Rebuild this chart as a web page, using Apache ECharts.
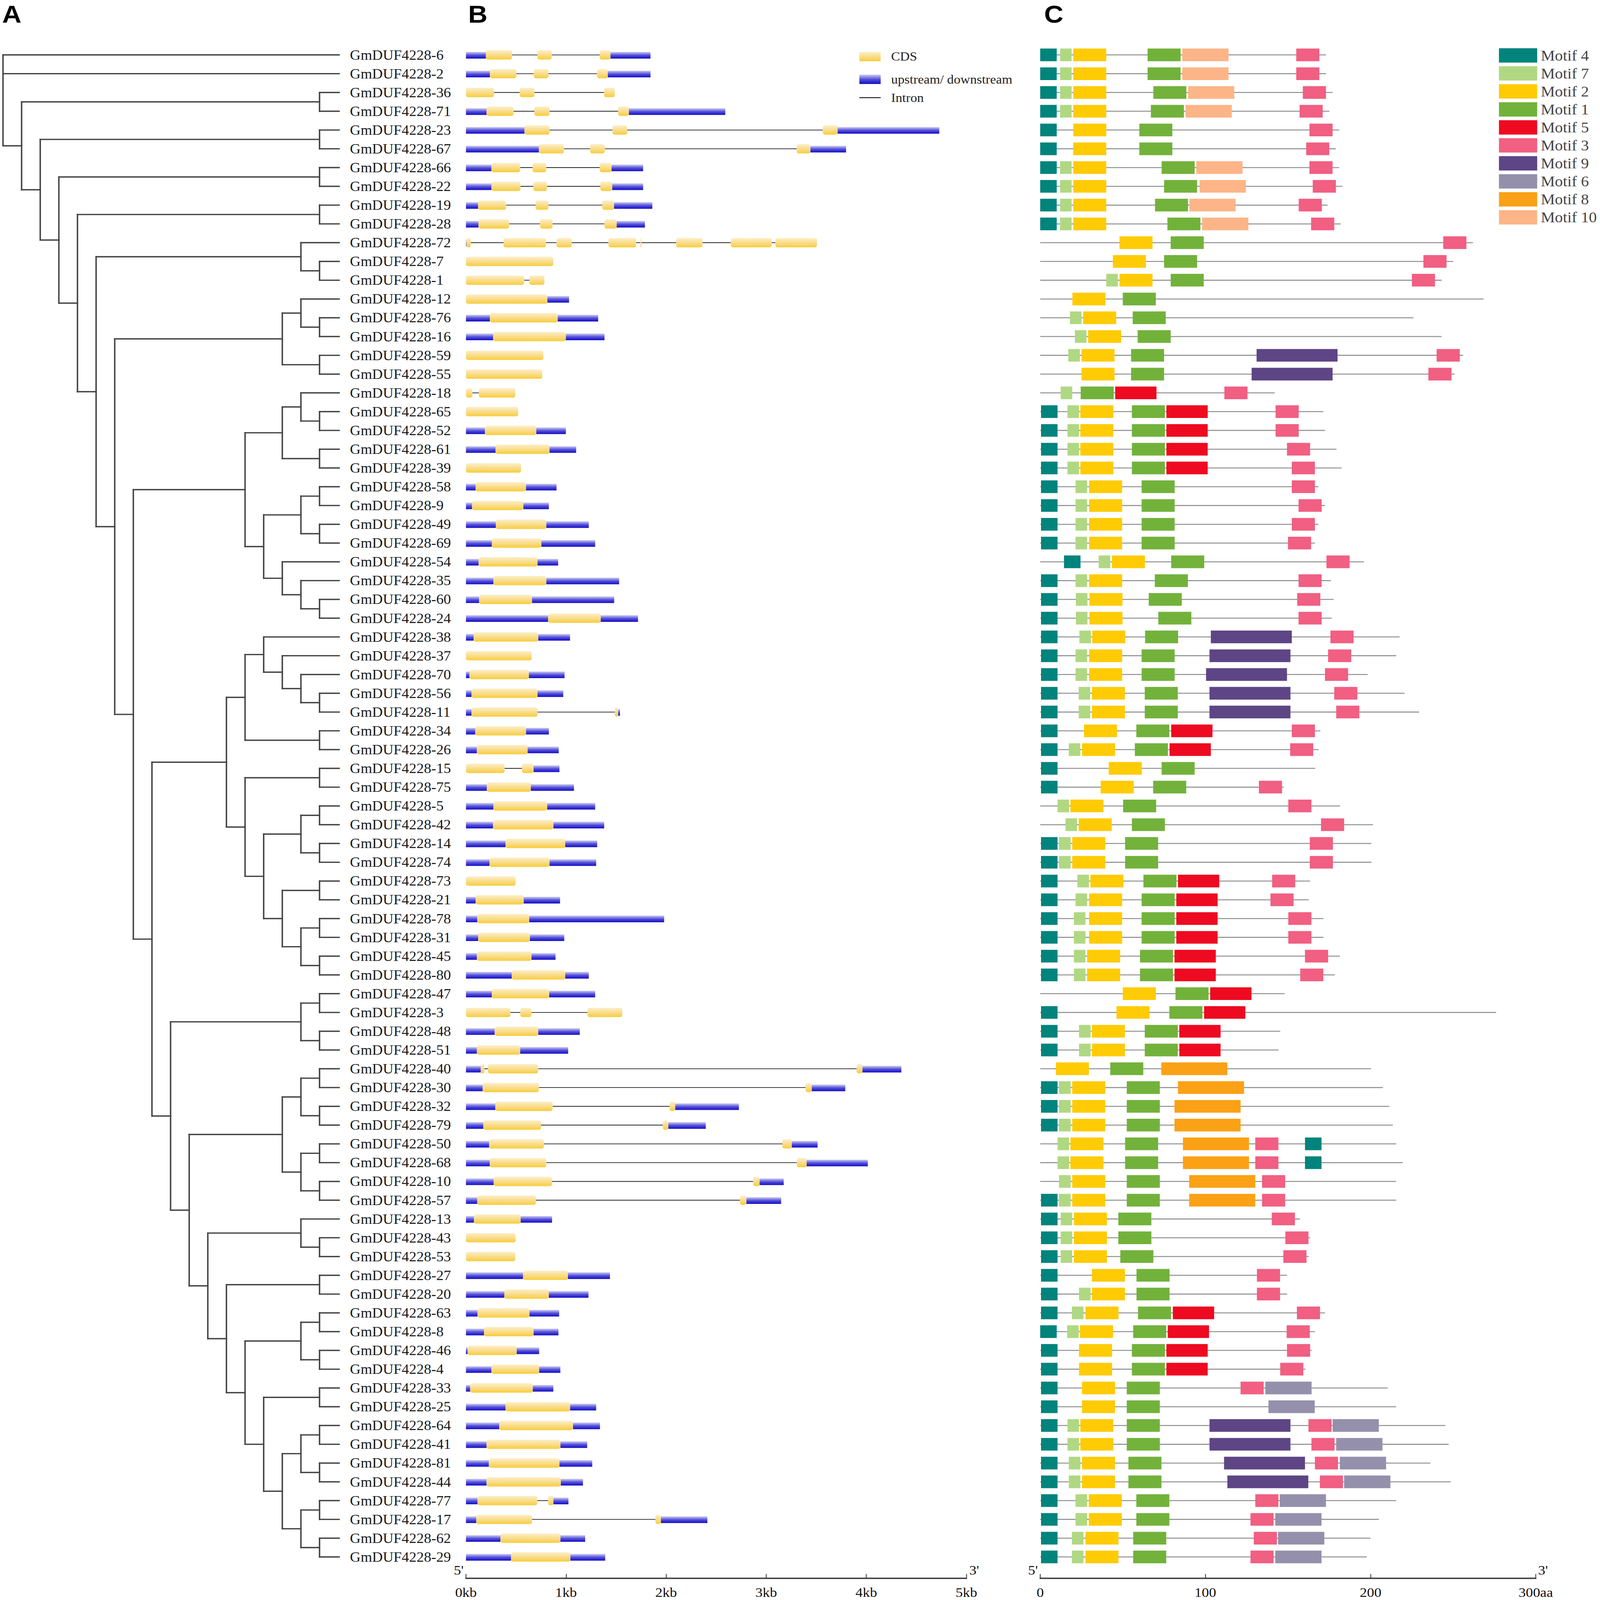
<!DOCTYPE html>
<html>
<head>
<meta charset="utf-8">
<title>GmDUF4228 tree, gene structure and motifs</title>
<script src="https://cdn.jsdelivr.net/npm/echarts@6/dist/echarts.min.js"></script>
<style>
html, body { margin: 0; padding: 0; background: #fff; overflow: hidden; }
#chart { width: 4433px; height: 4793px; transform-origin: 0 0; }
</style>
</head>
<body>
<div id="chart"></div>
<script>
// Gene ids from top to bottom
const geneIds = [6,2,36,71,23,67,66,22,19,28,72,7,1,12,76,16,59,55,18,65,52,61,39,58,9,49,69,54,35,60,24,
  38,37,70,56,11,34,26,15,75,5,42,14,74,73,21,78,31,45,80,47,3,48,51,40,30,32,79,50,68,10,57,13,43,53,27,20,
  63,8,46,4,33,25,64,41,81,44,77,17,62,29];

// Cladogram: [depth, child, child...], a plain number is a leaf (gene id)
const treeNodes =
[0,6,2,
 [1,[17,36,71],
  [2,[17,23,67],
   [3,[17,66,22],
    [4,[17,19,28],
     [5,[16,72,[17,7,1]],
      [6,[15,[16,12,[17,76,16]],[17,59,55]],
       [7,[13,[15,[16,18,[17,65,52]],[17,61,39]],
              [14,[16,[17,58,9],[17,49,69]],[15,54,[16,35,[17,60,24]]]]],
        [8,[12,[13,[14,38,[15,37,[16,70,[17,56,11]]]],[17,34,26]],
               [13,[17,15,75],[14,[16,[17,5,42],[17,14,74]],[15,[17,73,21],[16,[17,78,31],[17,45,80]]]]]],
         [9,[16,[17,47,3],[17,48,51]],
          [10,[15,[16,[17,40,30],[17,32,79]],[16,[17,50,68],[17,10,57]]],
           [11,[16,13,[17,43,53]],
            [12,[17,27,20],
             [13,[16,[17,63,8],[17,46,4]],
              [14,[17,33,25],
               [15,[16,[17,64,41],[17,81,44]],[16,[17,77,17],[17,62,29]]]]]]]]]]]]]]]]]];
const leafDepth = 18.05;

// Gene length in bp, one per row
const geneLengths = [1844,1844,1487,2591,4729,3798,1770,1770,1862,1788,3507,872,784,1030,1321,1384,773,762,493,522,
  998,1101,551,905,828,1227,1291,921,1530,1481,1719,1040,657,985,972,1539,828,927,934,1079,
  1291,1381,1311,1301,496,940,1980,982,895,1227,1291,1562,1137,1021,4350,3790,2727,2396,3513,4015,
  3175,3149,860,496,493,1439,1224,931,924,731,943,873,1301,1339,1211,1262,1169,1024,2412,1191,1391];

// CDS blocks in bp, one list per row
const cdsRows = [
  [[199,460],[714,857],[1336,1443]],[[239,504],[677,824],[1310,1417]],[[0,280],[537,684],[1380,1487]],
  [[206,475],[684,835],[1520,1627]],[[585,835],[1465,1612],[3566,3713]],[[729,979],[1240,1387],[3305,3441]],
  [[254,541],[666,802],[1336,1454]],[[254,545],[673,810],[1343,1461]],[[121,401],[696,824],[1362,1479]],
  [[125,431],[740,865],[1384,1505]],
  [[4,48],[375,799],[905,1056],[1424,1700],[1744,1752],[2101,2363],[2646,3054],[3091,3507]],
  [[0,872]],[[0,581],[633,784]],[[0,813]],[[239,916]],[[272,997]],[[0,773]],[[0,762]],[[0,64],[129,493]],[[0,522]],
  [[190,702]],[[296,834]],[[0,551]],[[97,599]],[[61,573]],[[299,802]],[[258,753]],[[126,715]],[[274,802]],[[132,660]],
  [[821,1346]],[[77,721]],[[0,657]],[[35,628]],[[55,715]],[[55,715],[1488,1520]],[[93,599]],[[109,615]],
  [[0,386],[560,676]],[[209,647]],[[274,811]],[[270,873]],[[396,992]],[[235,834]],[[0,496]],[[97,576]],[[113,631]],
  [[122,638]],[[109,654]],[[457,992]],[[258,831]],[[0,444],[544,654],[1214,1562]],[[287,721]],[[109,541]],
  [[148,184],[219,721],[3903,3961]],[[167,728],[3394,3455]],[[293,866],[2035,2090]],[[174,750],[1967,2022]],
  [[232,779],[3162,3255]],[[238,802],[3307,3404]],[[277,860],[2869,2933]],[[113,699],[2737,2801]],[[80,547]],
  [[0,496]],[[0,493]],[[570,1018]],[[383,828]],[[116,634]],[[180,676]],[[16,506]],[[254,731]],[[42,667]],[[396,1040]],
  [[332,1069]],[[206,943]],[[229,934]],[[206,947]],[[116,712],[821,873]],[[103,660],[1893,1948]],[[345,943]],[[451,1043]]
];

// Protein length in aa, one per row
const proteinLengths = [173,173,177,175,181,179,181,183,174,182,262,250,243,268.5,226,243,256,251,142,171.4,
  172.4,179.4,182.5,168.5,172.4,168.5,166.3,196,176,177.6,176.5,217.6,215.5,198.3,220.6,229.4,169.6,168.5,166.5,147.4,
  181.5,201.5,200.5,200.5,163.4,162.6,171.4,171.4,181.4,178.4,148,276,145.3,144.3,200.3,207.5,211.4,213.5,215.5,219.4,
  215.5,215.5,157.3,163.4,162.6,149.5,149.5,172.4,166.3,164.4,160.5,210.4,215.5,245.3,247.3,236.2,248.5,215.5,205,199.9,197.7];

// Motif hits per row: [motif number, start aa]
const motifRows = [
  [[4,0],[7,12],[2,20],[1,65],[10,86],[3,155]],
  [[4,0],[7,12],[2,20],[1,65],[10,86],[3,155]],
  [[4,0],[7,12],[2,20],[1,68.5],[10,89.5],[3,159]],
  [[4,0],[7,12],[2,20],[1,67],[10,88],[3,157]],
  [[4,0],[2,20],[1,60],[3,163]],
  [[4,0],[2,20],[1,60],[3,161]],
  [[4,0],[7,12],[2,20],[1,73.5],[10,94.5],[3,163]],
  [[4,0],[7,12],[2,20],[1,75],[10,96.5],[3,165]],
  [[4,0],[7,12],[2,20],[1,69.5],[10,90.3],[3,156.5]],
  [[4,0],[7,12],[2,20],[1,77],[10,98],[3,164]],
  [[2,48],[1,79],[3,244]],
  [[2,44],[1,75],[3,232]],
  [[7,40],[2,48],[1,79],[3,225]],
  [[2,19.5],[1,50]],
  [[7,18],[2,26],[1,56]],
  [[7,21],[2,29],[1,59]],
  [[7,17],[2,25],[1,55],[9,131],[3,240]],
  [[2,25],[1,55],[9,128],[3,235]],
  [[7,12.4],[1,24.5],[5,45.4],[3,111.5]],
  [[4,0.5],[7,16.5],[2,24.3],[1,55.5],[5,76.4],[3,142.5]],
  [[4,0.5],[7,16.5],[2,24.3],[1,55.5],[5,76.4],[3,142.5]],
  [[4,0.5],[7,16.5],[2,24.3],[1,55.5],[5,76.4],[3,149.4]],
  [[4,0.5],[7,16.5],[2,24.3],[1,55.5],[5,76.4],[3,152.3]],
  [[4,0.5],[7,21.4],[2,29.6],[1,61.4],[3,152.3]],
  [[4,0.5],[7,21.4],[2,29.6],[1,61.4],[3,156.4]],
  [[4,0.5],[7,21.4],[2,29.6],[1,61.4],[3,152.3]],
  [[4,0.5],[7,21.4],[2,29.6],[1,61.4],[3,150]],
  [[4,14.4],[7,35.4],[2,43.4],[1,79.3],[3,173.3]],
  [[4,0.5],[7,21.4],[2,29.6],[1,69.4],[3,156.4]],
  [[4,0.5],[7,21.6],[2,29.8],[1,65.7],[3,155.6]],
  [[4,0.5],[7,21.6],[2,29.8],[1,71.5],[3,156.4]],
  [[4,0.5],[7,23.7],[2,31.5],[1,63.5],[9,103.3],[3,175.7]],
  [[4,0.5],[7,21.4],[2,29.6],[1,61.4],[9,102.5],[3,174.3]],
  [[4,0.5],[7,21.4],[2,29.6],[1,61.4],[9,100.4],[3,172.4]],
  [[4,0.5],[7,23.3],[2,31.3],[1,63.3],[9,102.5],[3,178]],
  [[4,0.5],[7,23.3],[2,31.3],[1,63.3],[9,102.5],[3,179.2]],
  [[4,0.5],[2,26.5],[1,58.2],[5,79.3],[3,152.3]],
  [[4,0.5],[7,17.3],[2,25.3],[1,57.3],[5,78.3],[3,151.3]],
  [[4,0.5],[2,41.5],[1,73.5]],
  [[4,0.5],[2,36.6],[1,68.4],[3,132.4]],
  [[7,10.5],[2,18.3],[1,50.2],[3,150.2]],
  [[7,15.3],[2,23.3],[1,55.5],[3,170]],
  [[4,0.5],[7,11.4],[2,19.4],[1,51.4],[3,163.2]],
  [[4,0.5],[7,11.4],[2,19.4],[1,51.4],[3,163.2]],
  [[4,0.5],[7,22.5],[2,30.4],[1,62.5],[5,83.4],[3,140.4]],
  [[4,0.5],[7,21.4],[2,29.6],[1,61.4],[5,82.4],[3,139.4]],
  [[4,0.5],[7,20.4],[2,29.6],[1,61.4],[5,82.4],[3,150.2]],
  [[4,0.5],[7,20.4],[2,29.6],[1,61.4],[5,82.4],[3,150.2]],
  [[4,0.5],[7,20.4],[2,28.4],[1,60.4],[5,81.3],[3,160.3]],
  [[4,0.5],[7,20.4],[2,28.4],[1,60.4],[5,81.3],[3,157.4]],
  [[2,50],[1,81.9],[5,102.9]],
  [[4,0.5],[2,46.2],[1,78.2],[5,99.2]],
  [[4,0.5],[7,23.5],[2,31.3],[1,63.3],[5,84.2]],
  [[4,0.5],[7,23.5],[2,31.3],[1,63.3],[5,84.2]],
  [[2,9.5],[1,42.4],[8,73.3]],
  [[4,0.5],[7,11.4],[2,19.4],[1,52.4],[8,83.4]],
  [[4,0.5],[7,11.4],[2,19.4],[1,52.4],[8,81.3]],
  [[4,0.5],[7,11.4],[2,19.4],[1,52.4],[8,81.3]],
  [[7,10.5],[2,18.3],[1,51.4],[8,86.4],[3,130.2],[4,160.3]],
  [[7,10.5],[2,18.3],[1,51.4],[8,86.4],[3,130.2],[4,160.3]],
  [[7,11.4],[2,19.4],[1,52.4],[8,90.2],[3,134.3]],
  [[4,0.5],[7,11.4],[2,19.4],[1,52.4],[8,90.2],[3,134.3]],
  [[4,0.5],[7,12.4],[2,20.4],[1,47.3],[3,140.2]],
  [[4,0.5],[7,12.4],[2,20.4],[1,47.3],[3,148.4]],
  [[4,0.5],[7,12.4],[2,20.4],[1,48.5],[3,147.2]],
  [[4,0.5],[2,31.3],[1,58.3],[3,131.2]],
  [[4,0.5],[7,23.5],[2,31.3],[1,58.3],[3,131.2]],
  [[4,0.5],[7,19.2],[2,27.4],[1,59.2],[5,80.3],[3,155.4]],
  [[4,0],[7,16.3],[2,24.1],[1,56.3],[5,77.2],[3,149.2]],
  [[4,0.5],[2,23.5],[1,55.5],[5,76.4],[3,149.4]],
  [[4,0.5],[2,23.5],[1,55.5],[5,76.4],[3,145.3]],
  [[4,0.5],[2,25.3],[1,52.4],[3,121.3],[6,136.3]],
  [[4,0.5],[2,25.3],[1,52.4],[6,138.2]],
  [[4,0.5],[7,16.5],[2,24.3],[1,52.4],[9,102.5],[3,162.4],[6,177]],
  [[4,0.5],[7,16.5],[2,24.3],[1,52.4],[9,102.5],[3,164.2],[6,179.2]],
  [[4,0.5],[7,17.3],[2,25.3],[1,53.4],[9,111.3],[3,166.3],[6,181.4]],
  [[4,0.5],[7,17.3],[2,25.3],[1,53.4],[9,113.3],[3,169.3],[6,184]],
  [[4,0.5],[7,21.4],[2,29.4],[1,58.2],[3,130.2],[6,145]],
  [[4,0.5],[7,21.4],[2,29.4],[1,58.2],[3,127.3],[6,142.3]],
  [[4,0.5],[7,19.2],[2,27.4],[1,56.3],[3,129.3],[6,144]],
  [[4,0.5],[7,19.2],[2,27.4],[1,56.3],[3,127.3],[6,142.3]]
];

// Legend order and motif widths in aa
const motifOrder = [4,7,2,1,5,3,9,6,8,10];
const motifWidths = {4:10, 7:7, 2:20, 1:20, 5:25, 3:14, 9:49, 6:28, 8:40, 10:28};

const kbTicks = ['0kb','1kb','2kb','3kb','4kb','5kb'];
const aaTicks = ['0','100','200','300aa'];

// Styles
const SERIF = '"Liberation Serif", "Times New Roman", serif';
const motifColors = {4:'#00847c', 7:'#b0d883', 2:'#ffcb05', 1:'#72b23b', 5:'#ee0a20',
  3:'#f15f82', 9:'#5e4585', 6:'#9490ac', 8:'#fba115', 10:'#fdb588'};
const cdsFill = new echarts.graphic.LinearGradient(0, 0, 0, 1, [
  {offset: 0, color: '#fdeec8'}, {offset: 0.5, color: '#f9dd8c'}, {offset: 1, color: '#f8cd3c'}]);
const utrFill = new echarts.graphic.LinearGradient(0, 0, 0, 1, [
  {offset: 0, color: '#cfcff3'}, {offset: 0.5, color: '#5450da'}, {offset: 1, color: '#140cc4'}]);

const ROW_TOP = 164.5, ROW_BOTTOM = 4664;
const rowAxis = (gridIndex, extra) => Object.assign({
  type: 'value', gridIndex, min: 0, max: 80, inverse: true, interval: 1, show: false
}, extra);

// Walk the tree once, leaves come in row order
const geneNames = geneIds.map(id => 'GmDUF4228-' + id);
const treeEdges = [];
let nextRow = 0;
function walk(node) {
  if (typeof node === 'number') return {depth: leafDepth, row: nextRow++};
  const depth = node[0];
  const kids = node.slice(1).map(walk);
  const top = kids[0].row, bottom = kids[kids.length - 1].row;
  treeEdges.push([depth, top, depth, bottom]);
  kids.forEach(k => treeEdges.push([depth, k.row, k.depth, k.row]));
  return {depth, row: (top + bottom) / 2};
}
walk(treeNodes);

// Flatten the gene lists into bars and intron lines
const cdsData = [], utrData = [], intronData = [];
cdsRows.forEach((blocks, row) => {
  blocks.forEach((b, i) => {
    cdsData.push([row, b[0], b[1]]);
    if (i > 0) intronData.push([row, blocks[i - 1][1], b[0]]);
  });
  const first = blocks[0][0], last = blocks[blocks.length - 1][1];
  if (first > 0) utrData.push([row, 0, first]);
  if (last < geneLengths[row]) utrData.push([row, last, geneLengths[row]]);
});

// Motif series, one per motif so the legend can use them
function motifData(num) {
  const out = [];
  motifRows.forEach((hits, row) => hits.forEach(h => {
    if (h[0] === num) out.push([row, h[1], h[1] + motifWidths[num]]);
  }));
  return out;
}

function barRender(height, radius, fill, shift) {
  return function (params, api) {
    const a = api.coord([api.value(1), api.value(0)]);
    const b = api.coord([api.value(2), api.value(0)]);
    return {
      type: 'rect',
      shape: {x: a[0], y: a[1] - height / 2 + (shift || 0), width: b[0] - a[0], height, r: radius},
      style: {fill}
    };
  };
}

function lineRender(width, stroke) {
  return function (params, api) {
    const a = api.coord([api.value(1), api.value(0)]);
    const b = api.coord([api.value(2), api.value(0)]);
    return {
      type: 'line',
      shape: {x1: a[0], y1: a[1], x2: b[0], y2: b[1]},
      style: {stroke, lineWidth: width}
    };
  };
}

function bottomAxis(gridIndex, max, interval, ticks) {
  return {
    type: 'value', gridIndex, min: 0, max, interval, position: 'bottom', offset: 64,
    axisLine: {show: true, onZero: false, lineStyle: {color: '#3a3a3a', width: 4}},
    axisTick: {show: true, inside: true, length: 13, lineStyle: {color: '#222', width: 2}},
    splitLine: {show: false},
    axisLabel: {
      show: true, margin: 22, fontFamily: SERIF, fontSize: 40, color: '#111',
      formatter: v => ticks[v / interval]
    }
  };
}

function legendOne(name, left, top, w, h, icon, gap) {
  return {
    data: [name], orient: 'vertical', left, top, padding: 0, itemWidth: w, itemHeight: h, icon,
    selectedMode: false,
    textStyle: {fontFamily: SERIF, fontSize: 37, color: '#222', padding: [0, 0, 0, gap]}
  };
}

const panelLetter = (text, x) => ({
  type: 'text', x, y: 42,
  style: {text, fill: '#000', font: 'bold 74px "Liberation Sans", Arial, sans-serif', verticalAlign: 'middle'}
});
const endMark = (text, x) => ({
  type: 'text', x, y: 4704,
  style: {text, fill: '#111', font: '40px ' + SERIF, align: 'center', verticalAlign: 'middle'}
});

const option = {
  animation: false,
  backgroundColor: '#fff',
  grid: [
    {left: 8.3, top: ROW_TOP, width: 931.2, height: ROW_BOTTOM - ROW_TOP},
    {left: 1291, top: ROW_TOP, width: 1386.5, height: ROW_BOTTOM - ROW_TOP},
    {left: 2882, top: ROW_TOP, width: 1373, height: ROW_BOTTOM - ROW_TOP}
  ],
  xAxis: [
    {type: 'value', gridIndex: 0, min: 0, max: leafDepth, show: false},
    bottomAxis(1, 5000, 1000, kbTicks),
    bottomAxis(2, 300, 100, aaTicks)
  ],
  yAxis: [
    rowAxis(0, {
      show: true, position: 'right',
      axisLine: {show: false}, axisTick: {show: false}, splitLine: {show: false},
      axisLabel: {
        show: true, margin: 30, align: 'left', fontFamily: SERIF, fontSize: 41, color: '#1a1a1a',
        formatter: v => geneNames[v]
      }
    }),
    rowAxis(1),
    rowAxis(2)
  ],
  legend: [
    legendOne('CDS', 2381, 151, 59, 28, 'rect', 24),
    legendOne('upstream/ downstream', 2381, 219, 59, 28, 'rect', 24),
    legendOne('Intron', 2381, 274, 59, 3, 'rect', 24),
    {
      data: motifOrder.map(n => 'Motif ' + n), orient: 'vertical', left: 4153, top: 144, padding: 0,
      itemWidth: 106, itemHeight: 43, itemGap: 9.9, icon: 'rect', selectedMode: false,
      textStyle: {fontFamily: SERIF, fontSize: 44, color: '#444', padding: [0, 0, 0, 5]}
    }
  ],
  graphic: {
    elements: [
      panelLetter('A', 6), panelLetter('B', 1297), panelLetter('C', 2893),
      endMark("5'", 1271), endMark("3'", 2699), endMark("5'", 2862), endMark("3'", 4275)
    ]
  },
  series: [
    {
      name: 'Tree', type: 'custom', xAxisIndex: 0, yAxisIndex: 0, clip: false,
      encode: {x: [0, 2], y: [1, 3]}, data: treeEdges,
      renderItem: function (params, api) {
        const a = api.coord([api.value(0), api.value(1)]);
        const b = api.coord([api.value(2), api.value(3)]);
        return {
          type: 'line',
          shape: {x1: a[0], y1: a[1], x2: b[0], y2: b[1]},
          style: {stroke: '#444', lineWidth: 4, lineCap: 'square'}
        };
      }
    },
    {
      name: 'Intron', type: 'custom', xAxisIndex: 1, yAxisIndex: 1, clip: false,
      itemStyle: {color: '#222'}, encode: {x: [1, 2], y: 0}, data: intronData,
      renderItem: lineRender(2.2, '#222')
    },
    {
      name: 'upstream/ downstream', type: 'custom', xAxisIndex: 1, yAxisIndex: 1, clip: false,
      itemStyle: {color: utrFill}, encode: {x: [1, 2], y: 0}, data: utrData,
      renderItem: barRender(20, 0, utrFill, 1)
    },
    {
      name: 'CDS', type: 'custom', xAxisIndex: 1, yAxisIndex: 1, clip: false,
      itemStyle: {color: cdsFill}, encode: {x: [1, 2], y: 0}, data: cdsData,
      renderItem: barRender(28, 6, cdsFill)
    },
    {
      name: 'Protein', type: 'custom', xAxisIndex: 2, yAxisIndex: 2, clip: false,
      encode: {x: [1, 2], y: 0}, data: proteinLengths.map((len, row) => [row, 0, len]),
      renderItem: lineRender(3, '#929292')
    }
  ].concat(motifOrder.map(n => ({
    name: 'Motif ' + n, type: 'custom', xAxisIndex: 2, yAxisIndex: 2, clip: false,
    itemStyle: {color: motifColors[n]}, encode: {x: [1, 2], y: 0}, data: motifData(n),
    renderItem: barRender(38, 0, motifColors[n])
  })))
};

// The window can be smaller than the figure (4096 at most here), so fit the page to it
const box = document.getElementById('chart');
box.style.transform = `scale(${window.innerWidth / 4433}, ${window.innerHeight / 4793})`;

const chart = echarts.init(box, null, {renderer: 'svg'});
chart.setOption(option);
</script>
</body>
</html>
